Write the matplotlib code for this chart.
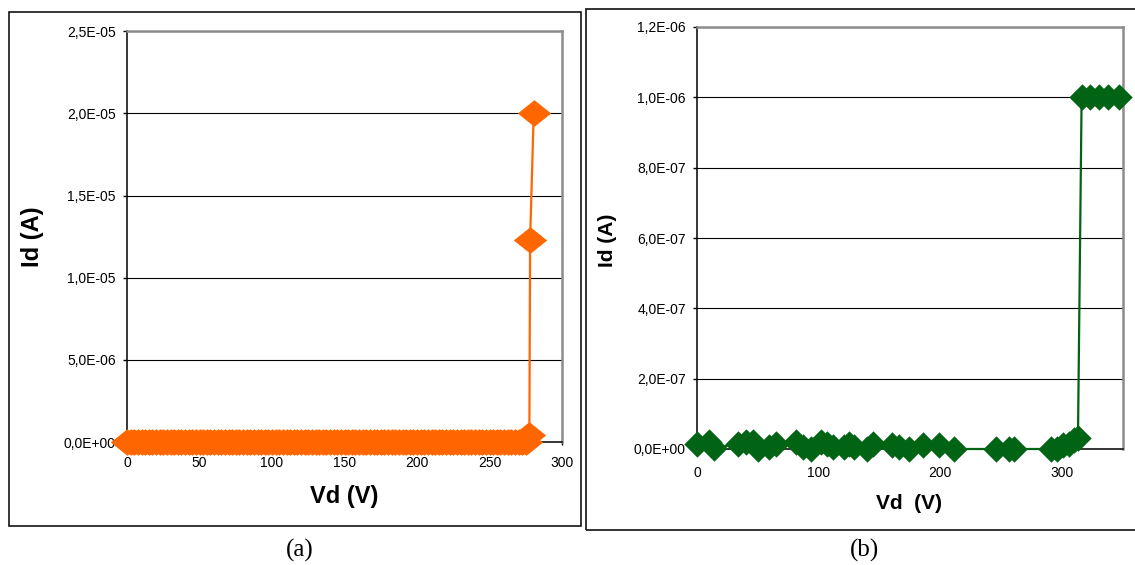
import matplotlib
matplotlib.use("Agg")
import matplotlib.pyplot as plt
from matplotlib.patches import Rectangle

# ---------------- data ----------------
# panel (a): dense sweep at ~0 A, then breakdown
vd_a = [0, 2.5, 5, 7.5, 10, 12.5, 15, 17.5, 20, 22.5, 25, 27.5, 30, 32.5, 35, 37.5,
        40, 42.5, 45, 47.5, 50, 52.5, 55, 57.5, 60, 62.5, 65, 67.5, 70, 72.5, 75, 77.5,
        80, 82.5, 85, 87.5, 90, 92.5, 95, 97.5, 100, 102.5, 105, 107.5, 110, 112.5, 115,
        117.5, 120, 122.5, 125, 127.5, 130, 132.5, 135, 137.5, 140, 142.5, 145, 147.5,
        150, 152.5, 155, 157.5, 160, 162.5, 165, 167.5, 170, 172.5, 175, 177.5, 180,
        182.5, 185, 187.5, 190, 192.5, 195, 197.5, 200, 202.5, 205, 207.5, 210, 212.5,
        215, 217.5, 220, 222.5, 225, 227.5, 230, 232.5, 235, 237.5, 240, 242.5, 245,
        247.5, 250, 252.5, 255, 257.5, 260, 262.5, 265, 267.5, 270, 272.5, 275,
        277.5, 278, 280.5]
id_a = [0.0] * 111 + [4.4e-7, 1.23e-5, 2.0e-5]

# panel (b)
vd_b = [0, 10, 14, 34, 40, 46, 50.5, 59, 65, 81, 87, 94, 101.5, 107, 112, 120.5, 125,
        129, 139.5, 145, 160, 166, 174.5, 186, 199, 211, 246, 256, 260.5, 291, 295.6,
        301, 306, 310, 313, 316, 323, 330.6, 338, 346.7]
id_b = [1.5e-8, 2e-8, 2e-9, 1.5e-8, 2e-8, 2e-8, 0, 5e-9, 1.5e-8, 2e-8, 5e-9, 0, 2e-8,
        1.5e-8, 5e-9, 5e-9, 1.5e-8, 5e-9, 0, 1.5e-8, 1e-8, 5e-9, 0, 1e-8, 1e-8, 0, 0, 0,
        0, 0, 0, 1e-8, 1.5e-8, 2.5e-8, 3e-8, 1e-6, 1e-6, 1e-6, 1e-6, 1e-6]

xticks_a = [0, 50, 100, 150, 200, 250, 300]
xlabels_a = ["0", "50", "100", "150", "200", "250", "300"]
yticks_a = [0, 5e-6, 1e-5, 1.5e-5, 2e-5, 2.5e-5]
ylabels_a = ["0,0E+00", "5,0E-06", "1,0E-05", "1,5E-05", "2,0E-05", "2,5E-05"]

xticks_b = [0, 100, 200, 300]
xlabels_b = ["0", "100", "200", "300"]
yticks_b = [0, 2e-7, 4e-7, 6e-7, 8e-7, 1e-6, 1.2e-6]
ylabels_b = ["0,0E+00", "2,0E-07", "4,0E-07", "6,0E-07", "8,0E-07", "1,0E-06", "1,2E-06"]

# ---------------- figure ----------------
W, H = 1135, 565
plt.rcParams['font.family'] = ['Liberation Sans', 'DejaVu Sans']
fig = plt.figure(figsize=(W / 100, H / 100), dpi=100)


def fx(px):
    return px / W


def fy(py):
    return 1 - py / H


def add_axes(l, t, r, b):
    return fig.add_axes([fx(l), fy(b), fx(r - l), (b - t) / H])


diamond = [(-1, 0), (0, 1), (1, 0), (0, -1), (-1, 0)]
flat_diamond = [(-1, 0), (0, 0.8), (1, 0), (0, -0.8), (-1, 0)]


def style(ax, xt, xl, yt, yl, xmax, ymax, xpad):
    ax.set_xlim(0, xmax)
    ax.set_ylim(0, ymax)
    ax.set_xticks(xt)
    ax.set_xticklabels(xl)
    ax.set_yticks(yt)
    ax.set_yticklabels(yl)
    ax.tick_params(axis='y', direction='out', length=3, width=1, pad=5, labelsize=10)
    ax.tick_params(axis='x', direction='out', length=2, width=1, pad=xpad, labelsize=10)
    ax.grid(axis='y', color='black', linewidth=0.8)
    ax.set_axisbelow(True)
    for s in ('top', 'right'):
        ax.spines[s].set_color('#8c8c8c')
        ax.spines[s].set_linewidth(1.8)
    for s in ('left', 'bottom'):
        ax.spines[s].set_color('black')
        ax.spines[s].set_linewidth(1.1)


# frames
fig.patches.append(Rectangle((fx(8.7), fy(526)), fx(580.7 - 8.7), (526 - 11.7) / H,
                             transform=fig.transFigure, fill=False, edgecolor='black',
                             linewidth=1.1))
fig.patches.append(Rectangle((fx(585.7), fy(529.7)), fx(1150 - 585.7), (529.7 - 9) / H,
                             transform=fig.transFigure, fill=False, edgecolor='#222222',
                             linewidth=1.3))

# panel (a)
ax1 = add_axes(127, 31.3, 562, 442)
style(ax1, xticks_a, xlabels_a, yticks_a, ylabels_a, 300, 2.5e-5, 8)
ax1.plot(vd_a, id_a, color='#ff6600', linewidth=1.6, marker=flat_diamond, markersize=24,
         markeredgewidth=0, clip_on=False, zorder=5)

# panel (b)
ax2 = add_axes(697, 27, 1123, 449)
style(ax2, xticks_b, xlabels_b, yticks_b, ylabels_b, 350, 1.2e-6, 10)
ax2.plot(vd_b, id_b, color='#006414', linewidth=1.6, marker=diamond, markersize=19,
         markeredgewidth=0, clip_on=False, zorder=5)

# axis labels
fig.text(fx(33), fy(237), "Id (A)", rotation=90, ha='center', va='center',
         fontsize=17, fontweight='bold')
fig.text(fx(344), fy(496), "Vd (V)", ha='center', va='center',
         fontsize=17, fontweight='bold')
fig.text(fx(607.5), fy(240), "Id (A)", rotation=90, ha='center', va='center',
         fontsize=15, fontweight='bold')
fig.text(fx(908.5), fy(503.5), "Vd  (V)", ha='center', va='center',
         fontsize=15, fontweight='bold')

# captions
fig.text(fx(300), fy(550), "(a)", ha='center', va='center', fontsize=18,
         family=['Liberation Serif', 'DejaVu Serif'])
fig.text(fx(864), fy(550), "(b)", ha='center', va='center', fontsize=18,
         family=['Liberation Serif', 'DejaVu Serif'])

fig.savefig("out.png", dpi=100)
